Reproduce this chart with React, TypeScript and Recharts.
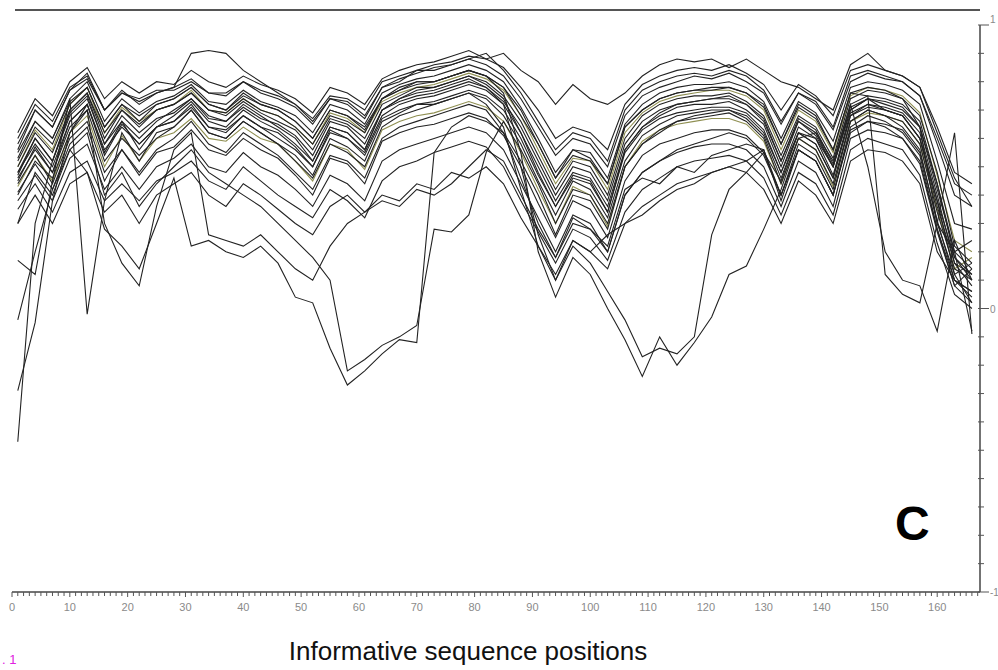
import React from 'react';
import { LineChart, Line, XAxis, YAxis } from 'recharts';

// sampled sequence positions (every 3rd informative position)
const positions = [
  1, 4, 7, 10, 13, 16, 19, 22, 25, 28,
  31, 34, 37, 40, 43, 46, 49, 52, 55, 58,
  61, 64, 67, 70, 73, 76, 79, 82, 85, 88,
  91, 94, 97, 100, 103, 106, 109, 112, 115, 118,
  121, 124, 127, 130, 133, 136, 139, 142, 145, 148,
  151, 154, 157, 160, 163, 166,
];

// dense band of profiles
const b1 = [
  0.62, 0.74, 0.68, 0.80, 0.85, 0.74, 0.80, 0.76, 0.80, 0.79,
  0.84, 0.80, 0.78, 0.82, 0.79, 0.77, 0.74, 0.69, 0.78, 0.76,
  0.72, 0.81, 0.84, 0.86, 0.87, 0.89, 0.91, 0.88, 0.85, 0.78,
  0.70, 0.60, 0.64, 0.62, 0.56, 0.72, 0.79, 0.82, 0.84, 0.85,
  0.84, 0.86, 0.83, 0.79, 0.70, 0.79, 0.75, 0.68, 0.84, 0.86,
  0.84, 0.82, 0.78, 0.64, 0.48, 0.44,
];
const b2 = [
  0.56, 0.70, 0.64, 0.77, 0.83, 0.70, 0.76, 0.73, 0.76, 0.78,
  0.81, 0.76, 0.75, 0.80, 0.76, 0.74, 0.71, 0.65, 0.74, 0.73,
  0.68, 0.78, 0.81, 0.83, 0.85, 0.86, 0.88, 0.86, 0.82, 0.74,
  0.64, 0.54, 0.60, 0.58, 0.50, 0.68, 0.75, 0.78, 0.80, 0.82,
  0.81, 0.83, 0.80, 0.76, 0.65, 0.76, 0.72, 0.63, 0.80, 0.83,
  0.81, 0.80, 0.75, 0.58, 0.40, 0.36,
];
const b3 = [
  0.53, 0.66, 0.60, 0.74, 0.80, 0.66, 0.74, 0.69, 0.73, 0.75,
  0.79, 0.73, 0.72, 0.77, 0.73, 0.71, 0.68, 0.62, 0.72, 0.70,
  0.65, 0.76, 0.79, 0.81, 0.82, 0.84, 0.86, 0.84, 0.80, 0.71,
  0.60, 0.48, 0.56, 0.55, 0.46, 0.65, 0.72, 0.76, 0.78, 0.79,
  0.79, 0.80, 0.78, 0.73, 0.60, 0.73, 0.69, 0.59, 0.78, 0.80,
  0.79, 0.77, 0.72, 0.52, 0.30, 0.28,
];
const b4 = [
  0.50, 0.63, 0.56, 0.72, 0.78, 0.62, 0.71, 0.66, 0.70, 0.72,
  0.77, 0.70, 0.69, 0.74, 0.70, 0.68, 0.64, 0.58, 0.69, 0.67,
  0.62, 0.73, 0.76, 0.78, 0.79, 0.81, 0.83, 0.81, 0.77, 0.68,
  0.56, 0.44, 0.53, 0.52, 0.42, 0.62, 0.69, 0.73, 0.75, 0.76,
  0.77, 0.77, 0.75, 0.70, 0.56, 0.70, 0.66, 0.55, 0.75, 0.78,
  0.77, 0.75, 0.69, 0.47, 0.24, 0.20,
];
const b5 = [
  0.47, 0.60, 0.52, 0.69, 0.75, 0.58, 0.68, 0.62, 0.67, 0.69,
  0.74, 0.67, 0.66, 0.71, 0.67, 0.65, 0.61, 0.54, 0.66, 0.64,
  0.58, 0.70, 0.73, 0.75, 0.76, 0.78, 0.80, 0.78, 0.73, 0.64,
  0.52, 0.40, 0.50, 0.48, 0.38, 0.58, 0.66, 0.70, 0.72, 0.73,
  0.74, 0.74, 0.72, 0.67, 0.52, 0.67, 0.63, 0.51, 0.72, 0.75,
  0.74, 0.72, 0.66, 0.44, 0.20, 0.24,
];
const b6 = [
  0.45, 0.57, 0.48, 0.66, 0.72, 0.54, 0.65, 0.58, 0.64, 0.66,
  0.71, 0.64, 0.63, 0.68, 0.64, 0.62, 0.57, 0.50, 0.63, 0.60,
  0.54, 0.67, 0.70, 0.72, 0.73, 0.75, 0.77, 0.75, 0.70, 0.60,
  0.47, 0.36, 0.47, 0.45, 0.34, 0.55, 0.63, 0.67, 0.69, 0.70,
  0.71, 0.71, 0.69, 0.63, 0.48, 0.64, 0.60, 0.47, 0.69, 0.72,
  0.71, 0.69, 0.62, 0.40, 0.16, 0.12,
];
const b7 = [
  0.43, 0.54, 0.45, 0.62, 0.68, 0.50, 0.61, 0.52, 0.60, 0.62,
  0.67, 0.60, 0.59, 0.64, 0.60, 0.58, 0.52, 0.45, 0.58, 0.56,
  0.49, 0.63, 0.66, 0.68, 0.69, 0.71, 0.73, 0.71, 0.66, 0.55,
  0.42, 0.30, 0.43, 0.40, 0.29, 0.50, 0.59, 0.63, 0.65, 0.66,
  0.67, 0.67, 0.65, 0.59, 0.44, 0.60, 0.56, 0.43, 0.66, 0.69,
  0.68, 0.66, 0.58, 0.35, 0.14, 0.18,
];
const b8 = [
  0.41, 0.51, 0.42, 0.58, 0.64, 0.45, 0.56, 0.47, 0.55, 0.57,
  0.63, 0.56, 0.54, 0.60, 0.56, 0.53, 0.47, 0.40, 0.53, 0.51,
  0.44, 0.59, 0.62, 0.64, 0.65, 0.67, 0.69, 0.67, 0.61, 0.50,
  0.37, 0.25, 0.38, 0.35, 0.25, 0.45, 0.54, 0.58, 0.60, 0.62,
  0.63, 0.63, 0.61, 0.55, 0.40, 0.56, 0.52, 0.40, 0.63, 0.66,
  0.65, 0.63, 0.55, 0.31, 0.10, 0.06,
];
const b9 = [
  0.38, 0.47, 0.38, 0.53, 0.58, 0.42, 0.50, 0.42, 0.50, 0.53,
  0.58, 0.50, 0.48, 0.55, 0.50, 0.47, 0.42, 0.36, 0.47, 0.44,
  0.38, 0.52, 0.56, 0.58, 0.60, 0.62, 0.64, 0.62, 0.56, 0.44,
  0.32, 0.20, 0.33, 0.30, 0.20, 0.40, 0.48, 0.52, 0.55, 0.57,
  0.58, 0.58, 0.56, 0.50, 0.36, 0.52, 0.48, 0.36, 0.60, 0.63,
  0.62, 0.60, 0.51, 0.27, 0.08, 0.14,
];
const b10 = [
  0.35, 0.44, 0.34, 0.48, 0.52, 0.38, 0.44, 0.38, 0.45, 0.48,
  0.52, 0.45, 0.42, 0.50, 0.45, 0.40, 0.36, 0.32, 0.42, 0.38,
  0.32, 0.45, 0.50, 0.52, 0.55, 0.57, 0.59, 0.57, 0.50, 0.38,
  0.27, 0.16, 0.28, 0.25, 0.17, 0.34, 0.42, 0.46, 0.50, 0.52,
  0.53, 0.54, 0.52, 0.46, 0.33, 0.48, 0.44, 0.33, 0.56, 0.60,
  0.58, 0.56, 0.47, 0.23, 0.05, 0.00,
];
const b11 = [
  0.30, 0.40, 0.30, 0.44, 0.48, 0.34, 0.40, 0.30, 0.40, 0.44,
  0.48, 0.40, 0.36, 0.44, 0.40, 0.35, 0.30, 0.26, 0.36, 0.40,
  0.34, 0.40, 0.38, 0.44, 0.42, 0.48, 0.46, 0.50, 0.44, 0.32,
  0.22, 0.12, 0.24, 0.20, 0.14, 0.30, 0.36, 0.40, 0.44, 0.46,
  0.48, 0.50, 0.48, 0.42, 0.30, 0.45, 0.40, 0.30, 0.52, 0.56,
  0.55, 0.52, 0.44, 0.20, 0.10, 0.04,
];

// profiles that leave the band
const o1 = [
  0.60, 0.72, 0.66, 0.78, 0.82, 0.70, 0.77, 0.72, 0.76, 0.78,
  0.90, 0.91, 0.90, 0.84, 0.80, 0.76, 0.72, 0.66, 0.74, 0.72,
  0.67, 0.78, 0.80, 0.84, 0.84, 0.86, 0.88, 0.90, 0.84, 0.76,
  0.66, 0.56, 0.62, 0.60, 0.52, 0.70, 0.77, 0.80, 0.82, 0.83,
  0.82, 0.84, 0.82, 0.77, 0.66, 0.76, 0.73, 0.64, 0.82, 0.84,
  0.82, 0.80, 0.75, 0.60, 0.44, 0.40,
];
const o2 = [
  0.58, 0.70, 0.64, 0.77, 0.81, 0.70, 0.76, 0.74, 0.77, 0.77,
  0.80, 0.76, 0.76, 0.80, 0.77, 0.75, 0.72, 0.67, 0.75, 0.74,
  0.70, 0.80, 0.82, 0.84, 0.86, 0.87, 0.89, 0.88, 0.90, 0.84,
  0.80, 0.72, 0.79, 0.74, 0.72, 0.76, 0.82, 0.86, 0.88, 0.87,
  0.88, 0.85, 0.88, 0.84, 0.80, 0.78, 0.74, 0.70, 0.86, 0.90,
  0.84, 0.82, 0.78, 0.62, 0.46, 0.36,
];
const o3 = [
  -0.47, 0.30, 0.52, 0.70, 0.76, 0.60, 0.70, 0.64, 0.70, 0.72,
  0.76, 0.70, 0.68, 0.73, 0.69, 0.66, 0.63, 0.56, 0.67, 0.65,
  0.60, 0.72, 0.75, 0.78, 0.78, 0.80, 0.82, 0.80, 0.75, 0.66,
  0.54, 0.42, 0.52, 0.50, 0.40, 0.60, 0.68, 0.72, 0.74, 0.75,
  0.75, 0.76, 0.73, 0.68, 0.54, 0.68, 0.64, 0.53, 0.74, 0.77,
  0.76, 0.74, 0.68, 0.48, 0.22, 0.16,
];
const o4 = [
  -0.29, -0.05, 0.38, 0.62, 0.72, 0.55, 0.66, 0.56, 0.64, 0.66,
  0.72, 0.64, 0.62, 0.68, 0.64, 0.60, 0.56, 0.50, 0.62, 0.60,
  0.55, 0.68, 0.72, 0.74, 0.75, 0.77, 0.79, 0.77, 0.72, 0.62,
  0.50, 0.38, 0.48, 0.46, 0.36, 0.56, 0.64, 0.68, 0.71, 0.72,
  0.72, 0.73, 0.70, 0.65, 0.50, 0.66, 0.61, 0.50, 0.71, 0.74,
  0.73, 0.71, 0.64, 0.44, 0.18, 0.10,
];
const o5 = [
  0.17, 0.12, 0.45, 0.74, -0.02, 0.38, 0.62, 0.52, 0.62, 0.64,
  0.70, 0.62, 0.60, 0.66, 0.62, 0.58, 0.54, 0.47, 0.60, 0.57,
  0.52, 0.66, 0.69, 0.72, 0.72, 0.74, 0.76, 0.74, 0.68, 0.58,
  0.45, 0.33, 0.45, 0.42, 0.32, 0.52, 0.61, 0.65, 0.68, 0.69,
  0.70, 0.70, 0.67, 0.61, 0.46, 0.62, 0.58, 0.46, 0.68, 0.71,
  0.70, 0.68, 0.60, 0.38, 0.12, 0.02,
];
const o6 = [
  -0.04, 0.20, 0.42, 0.56, 0.48, 0.28, 0.22, 0.14, 0.30, 0.46,
  0.22, 0.24, 0.20, 0.18, 0.22, 0.16, 0.04, 0.02, -0.14, -0.27,
  -0.22, -0.16, -0.11, -0.12, 0.55, 0.64, 0.68, 0.66, 0.62, 0.52,
  0.40, 0.26, 0.40, 0.38, 0.28, 0.50, 0.58, 0.62, 0.66, 0.68,
  0.69, 0.70, 0.68, 0.62, 0.48, 0.62, 0.58, 0.46, 0.68, 0.72,
  0.70, 0.68, 0.60, 0.36, 0.16, 0.08,
];
const o7 = [
  0.30, 0.48, 0.40, 0.56, 0.62, 0.40, 0.48, 0.36, 0.44, 0.50,
  0.56, 0.48, 0.44, 0.40, 0.36, 0.30, 0.24, 0.18, 0.10, -0.22,
  -0.18, -0.13, -0.10, -0.06, 0.28, 0.27, 0.33, 0.55, 0.66, 0.56,
  0.44, 0.30, 0.42, 0.40, 0.30, 0.50, 0.58, 0.63, 0.66, 0.67,
  0.68, 0.69, 0.66, 0.60, 0.44, 0.60, 0.56, 0.44, 0.66, 0.70,
  0.68, 0.66, 0.58, 0.34, 0.14, 0.10,
];
const o8 = [
  0.40, 0.52, 0.46, 0.62, 0.70, 0.30, 0.16, 0.08, 0.36, 0.56,
  0.62, 0.26, 0.24, 0.22, 0.26, 0.20, 0.14, 0.10, 0.22, 0.30,
  0.34, 0.38, 0.36, 0.42, 0.40, 0.44, 0.50, 0.56, 0.52, 0.40,
  0.28, 0.18, 0.30, 0.28, 0.20, 0.40, 0.48, 0.52, 0.56, 0.58,
  0.60, 0.62, 0.60, 0.54, 0.40, 0.56, 0.52, 0.40, 0.62, 0.66,
  0.64, 0.60, 0.52, 0.28, 0.10, 0.06,
];
const o9 = [
  0.50, 0.62, 0.55, 0.70, 0.76, 0.62, 0.70, 0.65, 0.70, 0.72,
  0.76, 0.70, 0.69, 0.74, 0.70, 0.68, 0.64, 0.58, 0.68, 0.66,
  0.62, 0.74, 0.77, 0.79, 0.80, 0.82, 0.84, 0.82, 0.76, 0.55,
  0.20, 0.04, 0.18, 0.12, 0.00, -0.11, -0.24, -0.10, -0.20, -0.12,
  -0.03, 0.12, 0.15, 0.28, 0.42, 0.60, 0.62, 0.50, 0.70, 0.74,
  0.72, 0.70, 0.64, 0.42, 0.20, 0.14,
];
const o10 = [
  0.48, 0.58, 0.50, 0.66, 0.72, 0.56, 0.64, 0.58, 0.64, 0.68,
  0.73, 0.66, 0.64, 0.70, 0.66, 0.63, 0.58, 0.52, 0.64, 0.62,
  0.56, 0.70, 0.74, 0.76, 0.77, 0.79, 0.81, 0.78, 0.72, 0.50,
  0.26, 0.10, 0.22, 0.16, 0.06, -0.04, -0.17, -0.14, -0.16, -0.10,
  0.26, 0.42, 0.48, 0.55, 0.45, 0.62, 0.60, 0.50, 0.70, 0.74,
  0.70, 0.68, 0.60, 0.38, 0.18, 0.12,
];
const o11 = [
  0.46, 0.56, 0.48, 0.64, 0.70, 0.52, 0.60, 0.54, 0.60, 0.64,
  0.70, 0.62, 0.60, 0.66, 0.62, 0.58, 0.52, 0.46, 0.58, 0.55,
  0.50, 0.64, 0.68, 0.70, 0.72, 0.74, 0.76, 0.72, 0.64, 0.42,
  0.22, 0.10, 0.24, 0.20, 0.26, 0.30, 0.33, 0.38, 0.42, 0.44,
  0.48, 0.50, 0.52, 0.56, 0.40, 0.58, 0.54, 0.42, 0.66, 0.70,
  0.68, 0.64, 0.56, 0.30, 0.12, 0.16,
];
const o12 = [
  0.44, 0.54, 0.44, 0.60, 0.66, 0.48, 0.56, 0.48, 0.56, 0.60,
  0.66, 0.58, 0.55, 0.62, 0.58, 0.54, 0.48, 0.42, 0.54, 0.52,
  0.46, 0.60, 0.64, 0.66, 0.68, 0.70, 0.72, 0.70, 0.62, 0.46,
  0.30, 0.18, 0.32, 0.28, 0.22, 0.42, 0.46, 0.44, 0.50, 0.48,
  0.54, 0.56, 0.58, 0.56, 0.38, 0.56, 0.52, 0.40, 0.64, 0.68,
  0.66, 0.62, 0.54, 0.28, 0.08, 0.02,
];
const o13 = [
  0.52, 0.64, 0.58, 0.72, 0.78, 0.64, 0.72, 0.66, 0.72, 0.74,
  0.78, 0.72, 0.70, 0.76, 0.72, 0.70, 0.66, 0.60, 0.70, 0.68,
  0.63, 0.74, 0.78, 0.80, 0.80, 0.82, 0.84, 0.82, 0.78, 0.68,
  0.58, 0.46, 0.54, 0.52, 0.44, 0.64, 0.70, 0.74, 0.76, 0.77,
  0.78, 0.78, 0.76, 0.72, 0.58, 0.72, 0.68, 0.56, 0.76, 0.75,
  0.12, 0.05, 0.02, 0.30, 0.20, -0.08,
];
const o14 = [
  0.48, 0.60, 0.52, 0.68, 0.74, 0.58, 0.66, 0.60, 0.66, 0.70,
  0.74, 0.68, 0.66, 0.72, 0.68, 0.64, 0.60, 0.52, 0.64, 0.62,
  0.56, 0.70, 0.74, 0.77, 0.78, 0.80, 0.82, 0.79, 0.74, 0.62,
  0.48, 0.36, 0.46, 0.44, 0.34, 0.56, 0.64, 0.69, 0.72, 0.73,
  0.74, 0.75, 0.72, 0.66, 0.52, 0.66, 0.62, 0.52, 0.72, 0.50,
  0.20, 0.10, 0.08, -0.08, 0.24, 0.10,
];
const o15 = [
  0.55, 0.66, 0.60, 0.73, 0.78, 0.64, 0.72, 0.68, 0.72, 0.74,
  0.78, 0.72, 0.70, 0.75, 0.72, 0.70, 0.66, 0.60, 0.70, 0.68,
  0.64, 0.74, 0.77, 0.80, 0.80, 0.82, 0.84, 0.82, 0.78, 0.70,
  0.58, 0.46, 0.56, 0.53, 0.44, 0.64, 0.70, 0.74, 0.76, 0.77,
  0.77, 0.78, 0.76, 0.71, 0.58, 0.71, 0.67, 0.56, 0.76, 0.78,
  0.77, 0.74, 0.64, 0.30, 0.62, -0.09,
];

const yTicks = [-1, -0.9, -0.8, -0.7, -0.6, -0.5, -0.4, -0.3, -0.2, -0.1, 0, 0.1, 0.2, 0.3, 0.4, 0.5, 0.6, 0.7, 0.8, 0.9, 1];
const xTicks = Array.from({ length: 168 }, (_, i) => i);

const profiles = [b1, b2, b3, b4, b5, b6, b7, b8, b9, b10, b11, o1, o2, o3, o4, o5, o6, o7, o8, o9, o10, o11, o12, o13, o14, o15];
const olive = new Set([3, 6]);

const rows = positions.map((pos, i) => {
  const r: Record<string, number> = { pos };
  profiles.forEach((p, k) => {
    r['s' + k] = p[i];
  });
  return r;
});

const labelFont = '"Liberation Sans", Arial, sans-serif';

const XTick = (props: any) => {
  const { x, y, payload } = props;
  const v = payload.value;
  const major = v % 10 === 0;
  return (
    <g>
      <line x1={x} x2={x} y1={y} y2={y + (major ? 5 : 4)} stroke="#555" strokeWidth={1} />
      {major && (
        <text x={x} y={y + 19} textAnchor="middle" fontSize={11} fontFamily={labelFont} fill="#8a8a8a" stroke="none">
          {v}
        </text>
      )}
    </g>
  );
};

const YTick = (props: any) => {
  const { x, y, payload } = props;
  const v = payload.value;
  const major = v === 1 || v === -1 || v === 0;
  return (
    <g>
      <line x1={x - 2} x2={x + (major ? 9 : 4)} y1={y} y2={y} stroke="#555" strokeWidth={1} />
      {major && (
        <text x={x + 10} y={y + (v === 1 ? -2 : 4)} fontSize={10} fontFamily={labelFont} fill="#8a8a8a" stroke="none">
          {v}
        </text>
      )}
    </g>
  );
};

const App = () => {
  return (
    <div
      style={{
        position: 'absolute',
        left: 0,
        top: 0,
        width: 998,
        height: 670,
        background: '#fff',
        fontFamily: labelFont,
      }}
    >
      <div style={{ position: 'absolute', left: 15, top: 9, width: 965, borderTop: '2px solid #555' }} />
      <LineChart width={998} height={670} data={rows} margin={{ top: 25, right: 0, left: 12, bottom: 48 }}>
        <XAxis
          dataKey="pos"
          type="number"
          domain={[0, 167.4]}
          ticks={xTicks}
          interval={0}
          height={30}
          tickSize={0}
          tickMargin={0}
          tickLine={false}
          tick={XTick}
          axisLine={{ stroke: '#444', strokeWidth: 1.5 }}
        />
        <YAxis
          orientation="right"
          type="number"
          domain={[-1, 1]}
          ticks={yTicks}
          interval={0}
          width={18}
          tickSize={0}
          tickMargin={0}
          tickLine={false}
          tick={YTick}
          axisLine={{ stroke: '#444', strokeWidth: 1.5 }}
        />
        {profiles.map((_, k) => (
          <Line
            key={k}
            type="linear"
            dataKey={'s' + k}
            stroke={olive.has(k) ? '#8f8f52' : '#222'}
            strokeWidth={1.1}
            dot={false}
            activeDot={false}
            isAnimationActive={false}
          />
        ))}
      </LineChart>
      <div
        style={{
          position: 'absolute',
          left: 0,
          top: 636,
          width: 936,
          textAlign: 'center',
          fontSize: 26,
          lineHeight: '30px',
          color: '#111',
        }}
      >
        Informative sequence positions
      </div>
      <div
        style={{
          position: 'absolute',
          left: 895,
          top: 500,
          fontSize: 48,
          fontWeight: 'bold',
          lineHeight: '48px',
          color: '#000',
        }}
      >
        C
      </div>
      <div style={{ position: 'absolute', left: 2, top: 652, fontSize: 13, color: '#e020e0' }}>
        . 1
      </div>
    </div>
  );
};

export default App;
